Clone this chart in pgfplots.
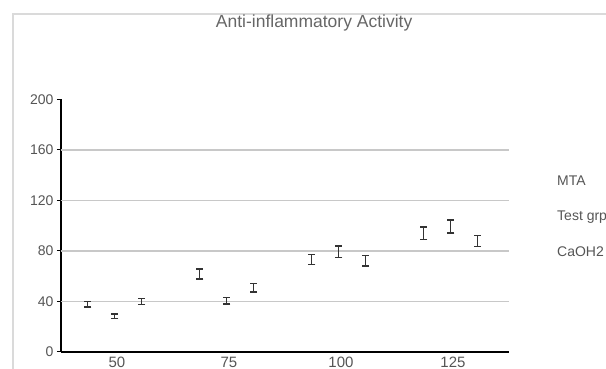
\documentclass[border=0pt]{standalone}
\usepackage{pgfplots}
\pgfplotsset{compat=1.18}
\usepackage{pgfplotstable}
\usepackage{fontspec}
\setmainfont{Liberation Sans}
\definecolor{txt}{HTML}{555555}
\definecolor{ttl}{HTML}{666666}
\definecolor{gridc}{HTML}{C8C8C8}
\definecolor{framec}{HTML}{DADADA}
\definecolor{barc}{HTML}{333333}

\pgfplotstableread{
x y e
43.5 37.9 2.3
68.5 61.8 4.0
93.5 73.5 4.0
118.5 93.9 5.1
}\mta
\pgfplotstableread{
x y e
49.5 28.4 1.7
74.5 40.5 2.5
99.5 79.4 4.5
124.5 99.4 5.1
}\testgrp
\pgfplotstableread{
x y e
55.5 40.1 2.4
80.5 50.8 3.3
105.5 72.3 4.2
130.5 87.9 4.6
}\caoh

\begin{document}
\begin{tikzpicture}
\path[use as bounding box] (0pt,0pt) rectangle (606pt,369pt);
\clip (0pt,0pt) rectangle (606pt,369pt);
\draw[framec, line width=2pt] (13.2pt,-10pt) -- (13.2pt,355.3pt) -- (620pt,355.3pt);
\begin{axis}[
  at={(61pt,17pt)}, anchor=south west,
  scale only axis, width=448pt, height=252.5pt,
  xmin=37.5, xmax=137.5, ymin=0, ymax=200,
  /pgf/number format/assume math mode=true,
  axis lines*=left,
  axis line style={black, line width=1.2pt},
  tick align=outside,
  ytick={0,40,80,120,160,200},
  yticklabel style={font=\fontsize{14}{16}\selectfont, text=txt},
  y tick style={black, line width=1pt},
  major tick length=4pt,
  xtick={50,75,100,125},
  xticklabel style={font=\fontsize{15}{17}\selectfont, text=txt, anchor=base, inner sep=0pt, yshift=-11.8pt},
  x tick style={draw=none},
  extra y ticks={40,80,120,160},
  extra y tick labels={},
  extra y tick style={grid=major, major grid style={gridc, line width=1.5pt}, tick style={draw=none}},
  extra x ticks={62.5,87.5,112.5},
  extra x tick labels={},
  extra x tick style={tick style={draw=black, line width=0.8pt}, major tick length=3pt},
  title={Anti-inflammatory Activity},
  title style={at={(0.565,1)}, anchor=base, yshift=65.5pt, font=\fontsize{17.5}{20}\selectfont, text=ttl},
  legend style={at={(1.096,0.5347)}, anchor=west, draw=none, fill=none,
    font=\fontsize{14}{16}\selectfont, text=txt, row sep=20.5pt},
  legend cell align=left,
  legend image code/.code={},
  clip=false,
]
\addplot[draw=none, mark=none, barc,
  error bars/.cd, y dir=both, y explicit, error mark=-,
  error bar style={line width=1.2pt, barc, solid},
  error mark options={barc, line width=1.2pt, mark size=3.5pt, rotate=90, solid}]
  table[x=x, y=y, y error=e] {\mta};
\addlegendentry{MTA}
\addplot[draw=none, mark=none, barc,
  error bars/.cd, y dir=both, y explicit, error mark=-,
  error bar style={line width=1.2pt, barc, solid},
  error mark options={barc, line width=1.2pt, mark size=3.5pt, rotate=90, solid}]
  table[x=x, y=y, y error=e] {\testgrp};
\addlegendentry{Test grp}
\addplot[draw=none, mark=none, barc,
  error bars/.cd, y dir=both, y explicit, error mark=-,
  error bar style={line width=1.2pt, barc, solid},
  error mark options={barc, line width=1.2pt, mark size=3.5pt, rotate=90, solid}]
  table[x=x, y=y, y error=e] {\caoh};
\addlegendentry{CaOH2}
\end{axis}
\end{tikzpicture}
\end{document}
